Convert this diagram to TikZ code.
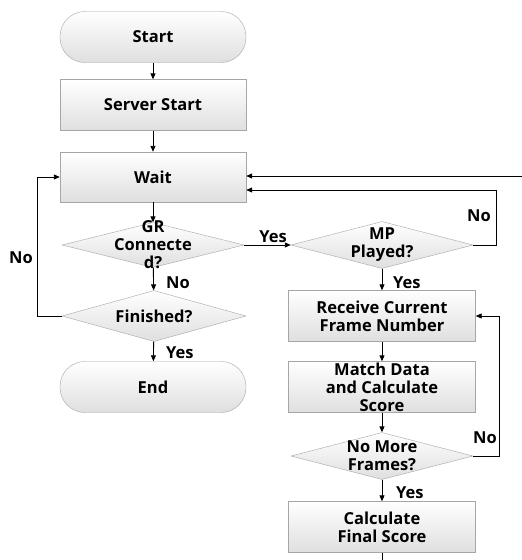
\documentclass[tikz,border=0pt]{standalone}
\usepackage{fontspec}
\setmainfont{Open Sans}
\usetikzlibrary{shapes.geometric,arrows.meta,calc}
\begin{document}
\begin{tikzpicture}[x=1pt,y=-1pt,
  box/.style={draw=gray!70, top color=white, bottom color=gray!25, minimum width=186pt, minimum height=51pt, inner sep=0pt},
  term/.style={box, rounded corners=25pt},
  dia/.style={draw=gray!70, top color=white, bottom color=gray!25, diamond, minimum width=182pt, minimum height=47pt, inner sep=0pt},
  txt/.style={font=\bfseries\fontsize{16.5}{18}\selectfont, align=center, inner sep=0pt},
  lbl/.style={font=\bfseries\fontsize{16.5}{18}\selectfont, inner sep=0pt},
  arr/.style={-{Triangle[length=6pt,width=5pt]}, line width=0.9pt},
  ln/.style={line width=0.9pt}]
\useasboundingbox (0,0) rectangle (522,560);
\fill[white] (0,0) rectangle (522,560);
% left column
\node[term] (start) at (153,37) {};
\node[txt] (startt) at (start) {Start};
\node[box] (server) at (153,105) {};
\node[txt] (servert) at (server) {Server Start};
\node[box, minimum height=50pt] (wait) at (153,177) {};
\node[txt] (waitt) at (wait) {Wait};
\node[dia, minimum height=45pt] (gr) at (153,245) {};
\node[txt] (grt) at (gr) {GR\\Connecte\\d?};
\node[dia, minimum width=184pt, minimum height=51pt] (fin) at (154,316) {};
\node[txt] (fint) at (fin) {Finished?};
\node[term] (end) at (153,387) {};
\node[txt] (endt) at (end) {End};
% right column
\node[dia] (mp) at (382,245) {};
\node[txt] (mpt) at (mp) {MP\\Played?};
\node[box, minimum width=187pt] (recv) at (382,316) {};
\node[txt] (recvt) at (recv) {Receive Current\\Frame Number};
\node[box, minimum width=187pt] (match) at (382,387) {};
\node[txt] (matcht) at (match) {Match Data\\and Calculate\\Score};
\node[dia] (nomore) at (382,456) {};
\node[txt] (nomoret) at (nomore) {No More\\Frames?};
\node[box, minimum width=187pt] (calcs) at (382,527) {};
\node[txt] (calcst) at (calcs) {Calculate\\Final Score};
\coordinate (edge) at (522,176);
\coordinate (bot) at (382,560);
\coordinate (waitr) at ($(wait.east)+(0,13)$);
% connectors
\draw[arr] (start) -- (server);
\draw[arr] (server) -- (wait);
\draw[arr] (wait) -- (gr);
\draw[arr] (gr) -- (fin);
\draw[arr] (fin) -- (end);
\draw[arr] (fin.west) -- ++(-24,0) |- (wait.west);
\draw[arr] (gr.east) -- (mp.west);
\draw[arr] (mp.east) -- ++(23,0) |- (waitr);
\draw[arr] (edge) -- (edge -| wait.east);
\draw[arr] (mp) -- (recv);
\draw[arr] (recv) -- (match);
\draw[arr] (match) -- (nomore);
\draw[arr] (nomore) -- (calcs);
\draw[arr] (nomore.east) -- ++(26,0) |- (recv.east);
\draw[ln] (calcs) -- (bot);
% labels
\node[lbl, anchor=west] (l1) at (166,283) {No};
\node[lbl, anchor=west] (l2) at (166,353) {Yes};
\node[lbl] (l3) at (21,258) {No};
\node[lbl] (l4) at (273,237) {Yes};
\node[lbl] (l5) at (479,216) {No};
\node[lbl, anchor=west] (l6) at (393,283) {Yes};
\node[lbl, anchor=west] (l7) at (396,493) {Yes};
\node[lbl] (l8) at (485,438) {No};
\end{tikzpicture}
\end{document}
